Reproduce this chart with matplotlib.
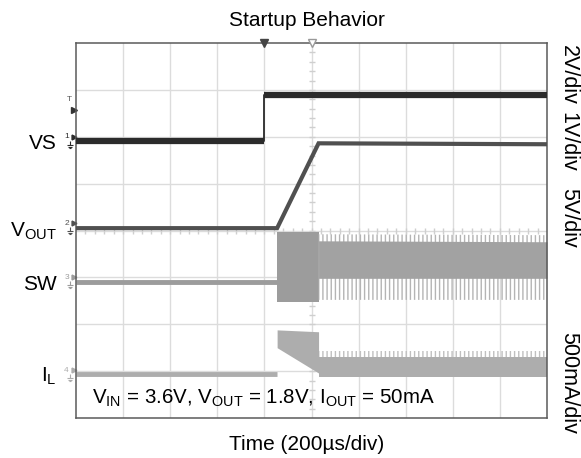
import matplotlib

matplotlib.use('Agg')
import matplotlib.pyplot as plt
from matplotlib.path import Path
import numpy as np

plt.rcParams['font.family'] = ['Liberation Sans', 'DejaVu Sans']
plt.rcParams['mathtext.fontset'] = 'custom'
plt.rcParams['mathtext.rm'] = 'Liberation Sans'

vs_t = [0, 4.0, 4.0, 10]
vs_y = [5.9, 5.9, 6.9, 6.9]

vout_t = [0, 4.27, 5.15, 10]
vout_y = [4.05, 4.05, 5.86, 5.84]

sw_base_t = [0, 4.27]
sw_base_y = [2.9, 2.9]
# Anlaufphase (Burst) und eingeschwungener Zustand
sw_burst_t = [4.27, 5.15]
sw_burst_lo = [2.48, 2.48]
sw_burst_hi = [3.97, 3.97]
sw_run_t = [5.15, 10]
sw_run_lo = [2.98, 2.98]
sw_run_hi = [3.78, 3.76]
sw_spike_lo = [2.52, 2.52]
sw_spike_hi = [3.92, 3.9]

il_base_t = [0, 4.27]
il_base_y = [0.94, 0.94]
il_burst_t = [4.27, 5.15]
il_burst_lo = [1.5, 0.96]
il_burst_hi = [1.88, 1.84]
il_run_t = [5.15, 10]
il_run_lo = [0.88, 0.88]
il_run_hi = [1.3, 1.3]
il_spike_hi = [1.42, 1.42]

left_labels = [r'VS', r'$\mathrm{V_{OUT}}$', r'SW', r'$\mathrm{I_L}$']
left_pos = [5.85, 3.98, 2.85, 0.88]
right_labels = ['2V/div', '1V/div', '5V/div', '500mA/div']
right_pos = [7.31, 5.9, 4.26, 0.75]
ch_pos = [5.95, 4.1, 2.95, 0.97]

c_vs = '#2b2b2b'
c_vout = '#505050'
c_sw = '#9c9c9c'
c_il = '#adadad'

# Massesymbol als Marker
gnd = Path([(0, 1), (0, 0), (-0.8, 0), (0.8, 0), (-0.5, -0.4), (0.5, -0.4), (-0.2, -0.8), (0.2, -0.8)],
           [Path.MOVETO, Path.LINETO, Path.MOVETO, Path.LINETO, Path.MOVETO, Path.LINETO,
            Path.MOVETO, Path.LINETO])

fig = plt.figure(figsize=(5.81, 4.58), dpi=100)
ax = fig.add_axes([76 / 581, 1 - 418 / 458, 471 / 581, 375 / 458])
ax.set_xlim(0, 10)
ax.set_ylim(0, 8)

# Raster
for gx in range(1, 10):
    ax.axvline(gx, color='#dcdcdc', lw=1, zorder=0)
for gy in range(1, 8):
    ax.axhline(gy, color='#dcdcdc', lw=1, zorder=0)
mt = np.arange(0.2, 10, 0.2)
ax.plot(mt, [4] * len(mt), '|', color='#cfcfcf', ms=4, zorder=0)
mt = np.arange(0.2, 8, 0.2)
ax.plot([5] * len(mt), mt, '_', color='#cfcfcf', ms=4, zorder=0)

ax.set_xticks([])
ax.set_yticks([])
for s in ax.spines.values():
    s.set_color('#5a5a5a')
    s.set_linewidth(1.1)

# SW
ax.plot(sw_base_t, sw_base_y, color=c_sw, lw=3.5, solid_capstyle='butt', zorder=2)
ax.fill_between(sw_burst_t, sw_burst_lo, sw_burst_hi, color=c_sw, lw=0, zorder=2)
ax.fill_between(sw_run_t, sw_spike_lo, sw_spike_hi, facecolor='none', edgecolor='#b4b4b4',
                hatch='||||', lw=0, zorder=2)
ax.fill_between(sw_run_t, sw_run_lo, sw_run_hi, color='#a2a2a2', lw=0, zorder=2)

# IL
ax.plot(il_base_t, il_base_y, color=c_il, lw=3.5, solid_capstyle='butt', zorder=2)
ax.fill_between(il_burst_t, il_burst_lo, il_burst_hi, color=c_il, lw=0, zorder=2)
ax.fill_between(il_run_t, il_run_lo, il_spike_hi, facecolor='none', edgecolor='#c0c0c0',
                hatch='||||', lw=0, zorder=2)
ax.fill_between(il_run_t, il_run_lo, il_run_hi, color=c_il, lw=0, zorder=2)

# VS und VOUT
ax.plot(vout_t, vout_y, color=c_vout, lw=3, solid_joinstyle='miter', zorder=3)
ax.plot(vs_t, vs_y, color=c_vs, lw=1.3, zorder=4)
ax.plot(vs_t[:2], vs_y[:2], color=c_vs, lw=4.5, solid_capstyle='butt', zorder=4)
ax.plot(vs_t[2:], vs_y[2:], color=c_vs, lw=4.5, solid_capstyle='butt', zorder=4)

# Marker am Rand
ax.plot(4.0, 8, 'v', color='#444444', ms=6, clip_on=False, zorder=5)
ax.plot(5.0, 8, 'v', mfc='white', mec='#999999', ms=6, clip_on=False, zorder=5)
ax.text(-0.13, 6.8, 'T', fontsize=6, color='#555555', ha='center', va='center', clip_on=False)
ax.plot(-0.05, 6.58, '>', color='#333333', ms=4, clip_on=False)
for i, y in enumerate(ch_pos):
    col = [c_vs, c_vout, c_sw, c_il][i]
    ax.text(-0.2, y + 0.05, str(i + 1), fontsize=6, color=col, ha='center', va='center', clip_on=False)
    ax.plot(-0.05, y + 0.05, '>', color=col, ms=3.5, clip_on=False)
    ax.plot(-0.12, y - 0.12, marker=gnd, color=col, ms=6, mew=0.8, clip_on=False)

for lab, y in zip(left_labels, left_pos):
    ax.text(-0.41, y, lab, fontsize=15, ha='right', va='center', clip_on=False)
for lab, y in zip(right_labels, right_pos):
    ax.text(10.45, y, lab, fontsize=15.5, rotation=-90, ha='center', va='center', clip_on=False)

ax.text(0.34, 0.3, r'$\mathrm{V_{IN}}$ = 3.6V, $\mathrm{V_{OUT}}$ = 1.8V, $\mathrm{I_{OUT}}$ = 50mA',
        fontsize=14.8, ha='left', va='baseline')

fig.text(306.5 / 581, 1 - 20 / 458, 'Startup Behavior', fontsize=15, ha='center', va='center')
fig.text(306.5 / 581, 1 - 445 / 458, 'Time (200µs/div)', fontsize=15, ha='center', va='center')

plt.savefig('out.png', dpi=100)
plt.close()
